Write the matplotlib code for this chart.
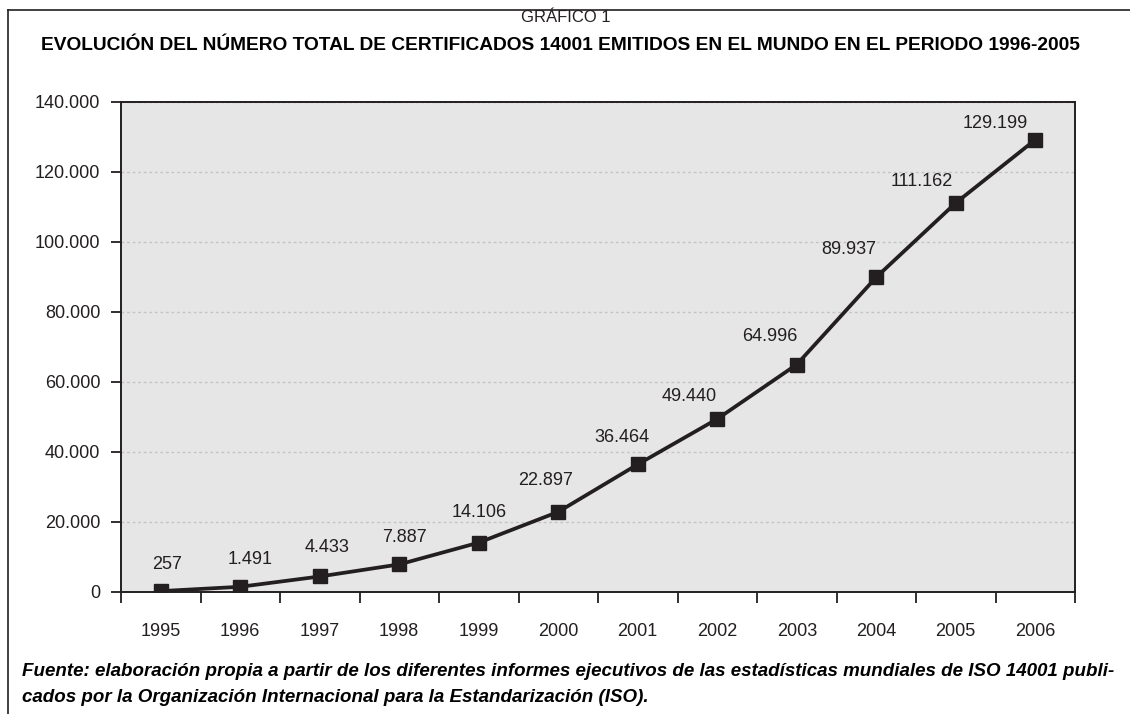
import matplotlib.pyplot as plt
from matplotlib.ticker import FuncFormatter, FixedLocator
from matplotlib.lines import Line2D

plt.rcParams['font.family'] = ['Liberation Sans', 'DejaVu Sans']

years = ['1995', '1996', '1997', '1998', '1999', '2000',
         '2001', '2002', '2003', '2004', '2005', '2006']
certificados = [257, 1491, 4433, 7887, 14106, 22897,
                36464, 49440, 64996, 89937, 111162, 129199]
# label offsets in pixels (dx, dy) relative to each marker
label_offsets = [(6, 27), (10, 27), (7, 29), (5, 27), (0, 30), (-13, 31),
                 (-16, 27), (-28, 22), (-27, 28), (-28, 28), (-34, 21), (-40, 16)]

dark = '#231f20'


def miles(v):
    return f'{int(round(v)):,}'.replace(',', '.')


fig = plt.figure(figsize=(11.3, 7.14), dpi=100)
ax = fig.add_axes([121 / 1130, 122 / 714, 954 / 1130, 490 / 714])
ax.set_facecolor('#e6e6e6')

x = list(range(len(years)))
ax.plot(x, certificados, color=dark, linewidth=2.7, marker='s',
        markersize=10, markerfacecolor=dark, markeredgecolor=dark, zorder=3)

for xi, v, (dx, dy) in zip(x, certificados, label_offsets):
    ax.annotate(miles(v), (xi, v), xytext=(dx, dy), textcoords='offset pixels',
                ha='center', va='center', fontsize=13, color=dark)

ax.set_xlim(-0.5, len(years) - 0.5)
ax.set_ylim(0, 140000)
ax.set_yticks(range(0, 140001, 20000))
ax.yaxis.set_major_formatter(FuncFormatter(lambda v, p: miles(v)))
ax.set_xticks(x)
ax.set_xticklabels(years)
ax.xaxis.set_minor_locator(FixedLocator([i - 0.5 for i in range(len(years) + 1)]))
ax.tick_params(axis='x', which='major', length=0, pad=22, labelsize=13, labelcolor=dark)
ax.tick_params(axis='x', which='minor', length=8, width=1.3, color=dark, direction='out')
ax.tick_params(axis='y', length=7, width=1.3, color=dark, pad=8, labelsize=13, labelcolor=dark)

ax.yaxis.grid(True, color='#c4c4c4', linestyle=(0, (2, 2)), linewidth=1)
ax.set_axisbelow(True)
for s in ax.spines.values():
    s.set_color(dark)
    s.set_linewidth(1.4)

fig.text(566 / 1130, 1 - 18 / 714, 'GRÁFICO 1', ha='center', va='center',
         fontsize=12, color=dark)
fig.text(560 / 1130, 1 - 45 / 714,
         'EVOLUCIÓN DEL NÚMERO TOTAL DE CERTIFICADOS 14001 EMITIDOS EN EL MUNDO EN EL PERIODO 1996-2005',
         ha='center', va='center', fontsize=13.8, fontweight='bold', color='black')

fig.text(22 / 1130, 1 - 672 / 714,
         'Fuente: elaboración propia a partir de los diferentes informes ejecutivos de las estadísticas mundiales de ISO 14001 publi-',
         ha='left', va='center', fontsize=13.5, fontweight='bold', fontstyle='italic', color='black')
fig.text(22 / 1130, 1 - 697 / 714,
         'cados por la Organización Internacional para la Estandarización (ISO).',
         ha='left', va='center', fontsize=13.5, fontweight='bold', fontstyle='italic', color='black')

# outer frame (left and top)
fig.add_artist(Line2D([8 / 1130, 8 / 1130], [0, 1 - 10 / 714], transform=fig.transFigure,
                      color=dark, linewidth=1.2))
fig.add_artist(Line2D([8 / 1130, 1], [1 - 10 / 714, 1 - 10 / 714], transform=fig.transFigure,
                      color=dark, linewidth=1.2))

fig.savefig('out.png', dpi=100)
